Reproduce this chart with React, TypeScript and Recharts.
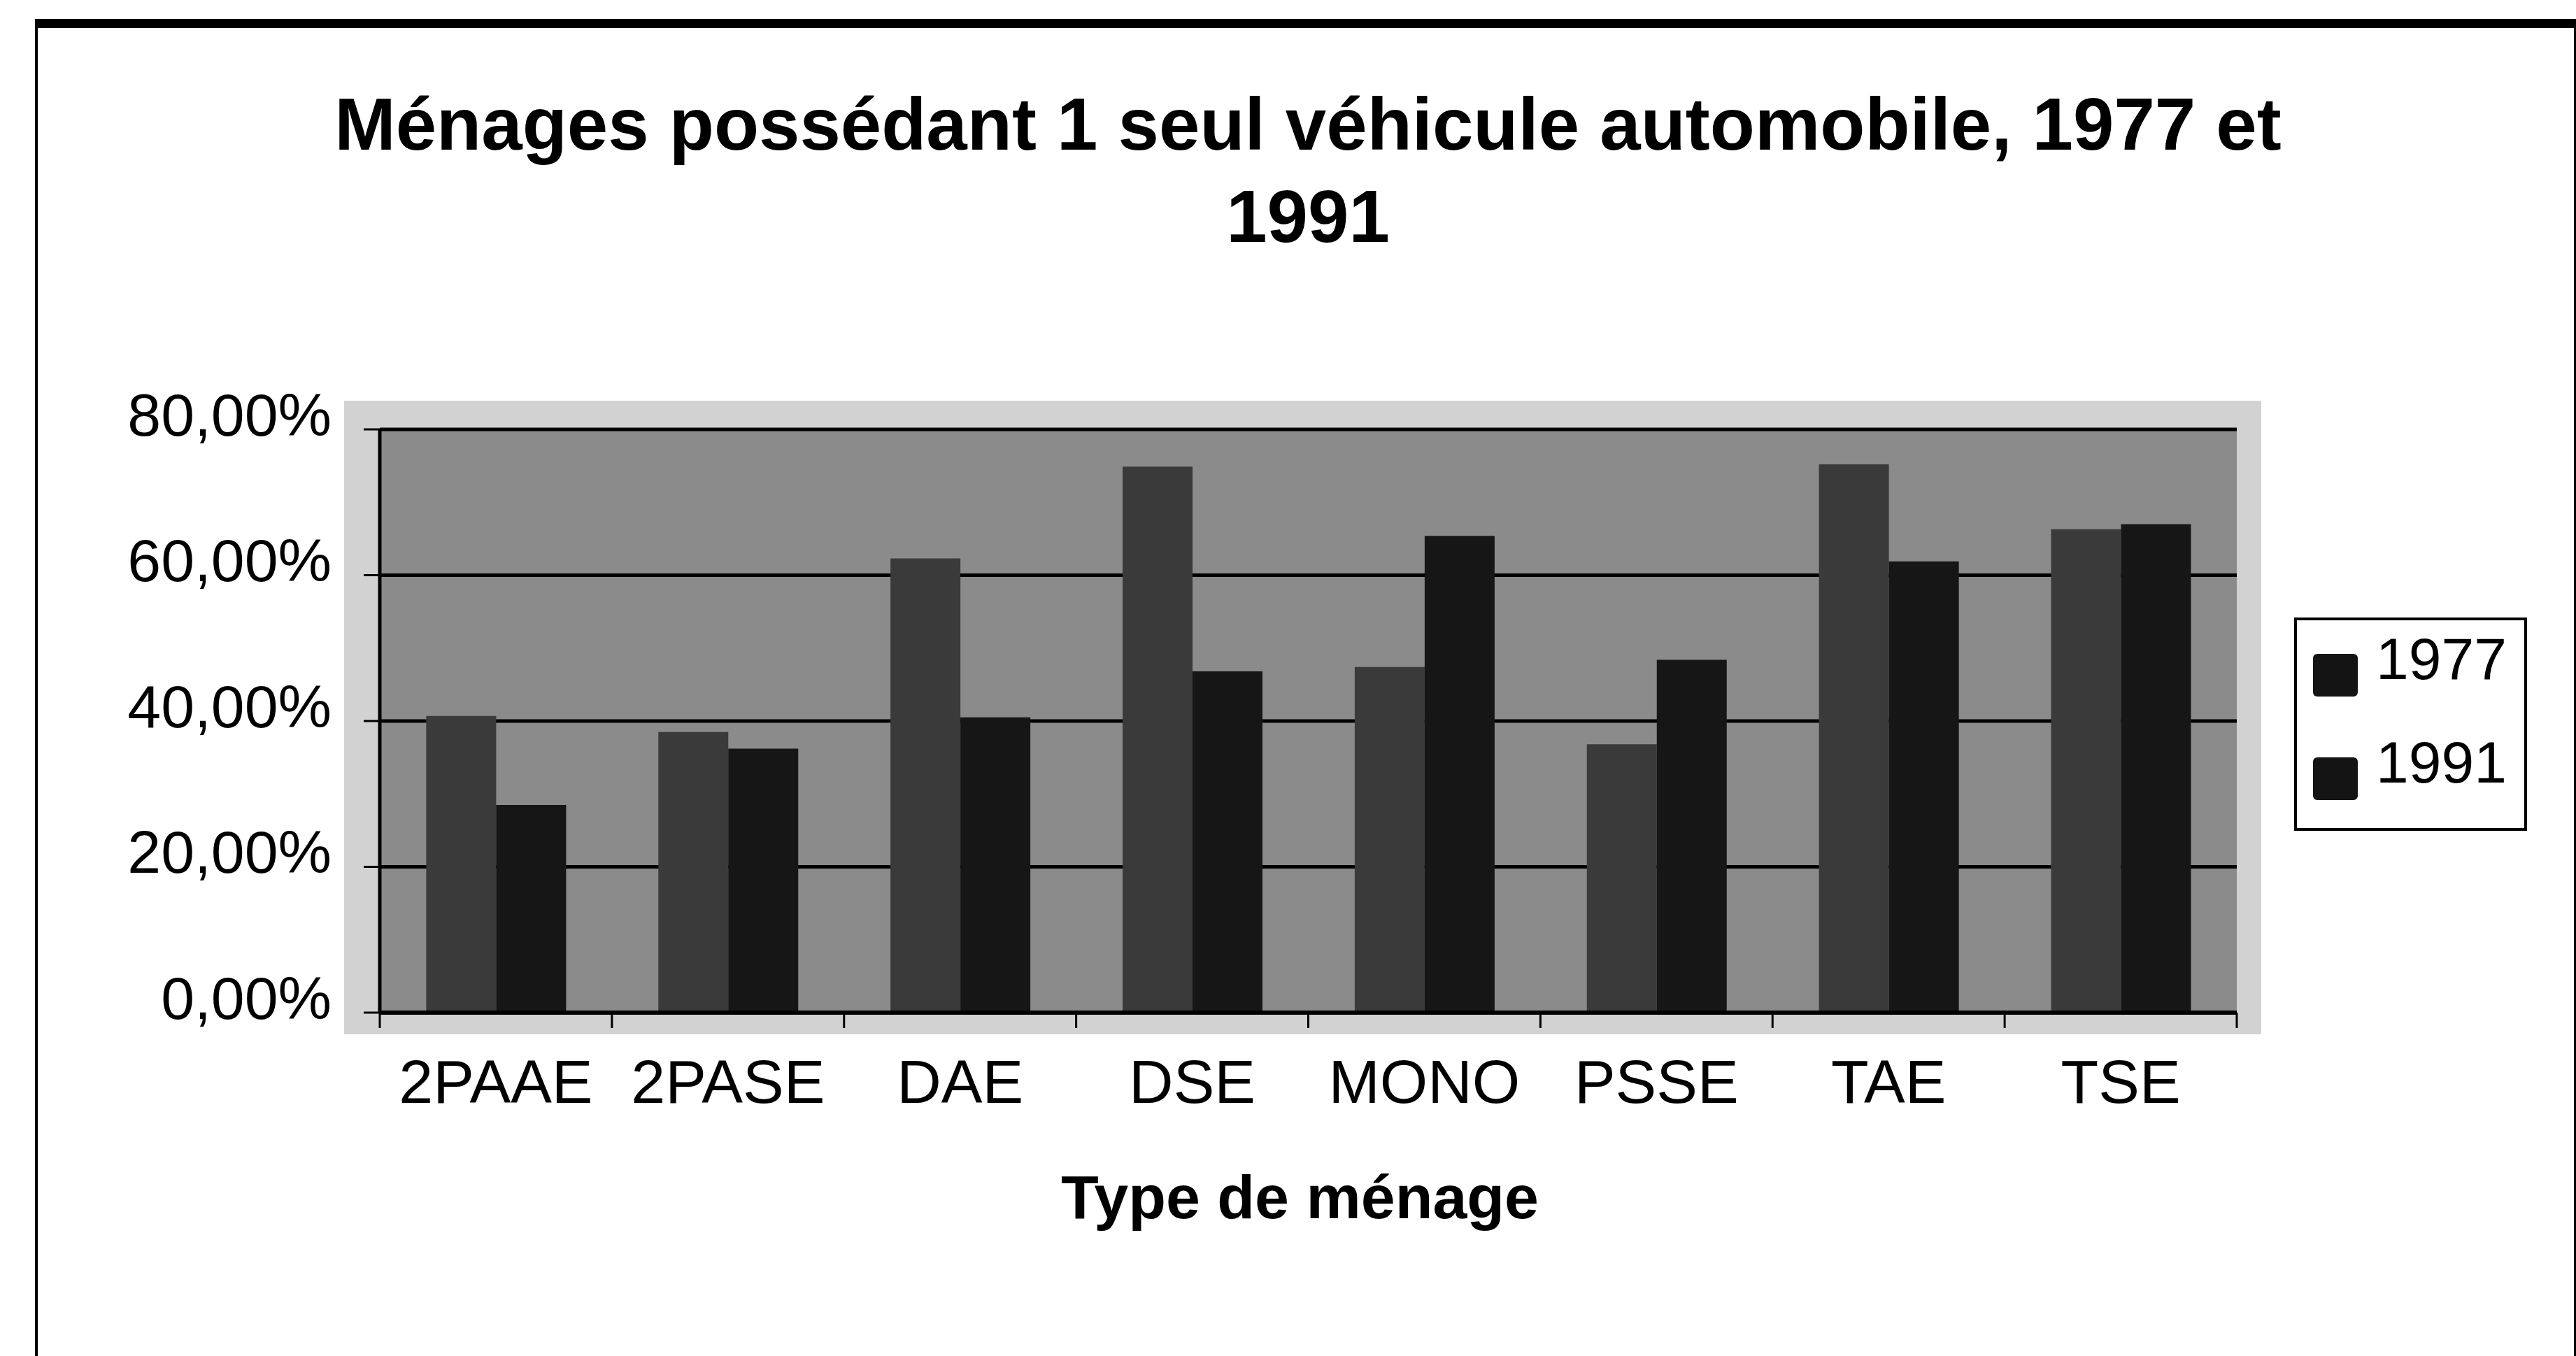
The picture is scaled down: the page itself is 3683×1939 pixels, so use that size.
import { Bar, BarChart, CartesianGrid, Legend, XAxis, YAxis } from 'recharts'

const categories = ['2PAAE', '2PASE', 'DAE', 'DSE', 'MONO', 'PSSE', 'TAE', 'TSE']
const values1977 = [40.7, 38.5, 62.3, 74.9, 47.4, 36.8, 75.2, 66.3]
const values1991 = [28.5, 36.2, 40.5, 46.8, 65.4, 48.4, 61.9, 67.0]
const yTicks = [0, 20, 40, 60, 80]

const data = categories.map((name, i) => ({
  name,
  y1977: values1977[i],
  y1991: values1991[i],
}))

const FONT = '"Liberation Sans", Arial, sans-serif'

const W = 3683
const H = 1939
const margin = { top: 614, right: 485, left: 143, bottom: 291 }
const Y_AXIS_W = 400
const PLOT_W = W - margin.left - margin.right - Y_AXIS_W
const BAND = PLOT_W / categories.length

const fmtPct = (v: number) => `${v.toFixed(2).replace('.', ',')}%`

// label centred in the band, tick marks on the band edges (like Excel)
function CategoryTick(props: any) {
  const { x, y, payload, index } = props
  const left = x - BAND / 2
  const right = x + BAND / 2
  return (
    <g>
      <line x1={left} x2={left} y1={y} y2={y + 22} stroke='#000' strokeWidth={3} />
      {index === categories.length - 1 && (
        <line x1={right} x2={right} y1={y} y2={y + 22} stroke='#000' strokeWidth={3} />
      )}
      <text x={x} y={y + 67} dy='0.71em' textAnchor='middle' fontSize={88} fontFamily={FONT} fill='#000'>
        {payload.value}
      </text>
    </g>
  )
}

function LegendBox(props: any) {
  const payload = props.payload || []
  return (
    <svg width={333} height={305} style={{ display: 'block' }}>
      <rect x={2} y={2} width={329} height={301} fill='#ffffff' stroke='#000000' strokeWidth={4} />
      {payload.map((entry: any, i: number) => (
        <g key={entry.value}>
          <rect x={27} y={52 + i * 148} width={64} height={61} rx={6} fill='#141414' />
          <text x={117} y={88 + i * 148} fontSize={84} fontFamily={FONT} fill='#000000'>
            {entry.value}
          </text>
        </g>
      ))}
    </svg>
  )
}

export default function App() {
  return (
    <div style={{ position: 'absolute', left: 0, top: 0, width: W, height: H, background: '#ffffff', fontFamily: FONT, overflow: 'hidden' }}>
      {/* frame */}
      <div style={{ position: 'absolute', left: 50, top: 27, width: 3626, height: 1960, borderTop: '13px solid #000', borderLeft: '4px solid #000', borderRight: '4px solid #000' }} />
      {/* title */}
      <div style={{ position: 'absolute', left: 170, top: 112, width: 3400, textAlign: 'center', fontSize: 105, fontWeight: 'bold', lineHeight: '132px', color: '#000' }}>
        Ménages possédant 1 seul véhicule automobile, 1977 et
        <br />
        1991
      </div>
      {/* light area behind the plot */}
      <div style={{ position: 'absolute', left: 492, top: 573, width: 2741, height: 906, background: '#d2d2d2' }} />
      <div style={{ position: 'absolute', left: 0, top: 0 }}>
        <BarChart
          width={W}
          height={H}
          data={data}
          margin={margin}
          barCategoryGap='20%'
          barGap={0}
        >
          <CartesianGrid vertical={false} stroke='#000000' strokeWidth={5} fill='#8b8b8b' fillOpacity={1} />
          <XAxis
            dataKey='name'
            height={200}
            interval={0}
            axisLine={{ stroke: '#000', strokeWidth: 6 }}
            tickLine={false}
            tickSize={0}
            tickMargin={0}
            tick={<CategoryTick />}
            label={{ value: 'Type de ménage', position: 'bottom', offset: 32, dx: -12, fontSize: 88, fontWeight: 'bold', fill: '#000', fontFamily: FONT }}
          />
          <YAxis
            domain={[0, 80]}
            ticks={yTicks}
            width={Y_AXIS_W}
            tickFormatter={fmtPct}
            tickSize={23}
            tickMargin={46}
            tickLine={{ stroke: '#000', strokeWidth: 3 }}
            axisLine={{ stroke: '#000', strokeWidth: 5 }}
            tick={{ fontSize: 86, fill: '#000', fontFamily: FONT, dy: -22 }}
          />
          <YAxis
            yAxisId='r'
            orientation='right'
            domain={[0, 80]}
            width={0}
            tick={false}
            tickLine={false}
            axisLine={{ stroke: '#000', strokeWidth: 5 }}
          />
          <Legend
            layout='vertical'
            align='center'
            verticalAlign='middle'
            content={<LegendBox />}
            wrapperStyle={{ left: 3280, top: 883, width: 333, height: 305 }}
          />
          <Bar dataKey='y1977' name='1977' fill='#3a3a3a' isAnimationActive={false} />
          <Bar dataKey='y1991' name='1991' fill='#161616' isAnimationActive={false} />
        </BarChart>
      </div>
    </div>
  )
}
